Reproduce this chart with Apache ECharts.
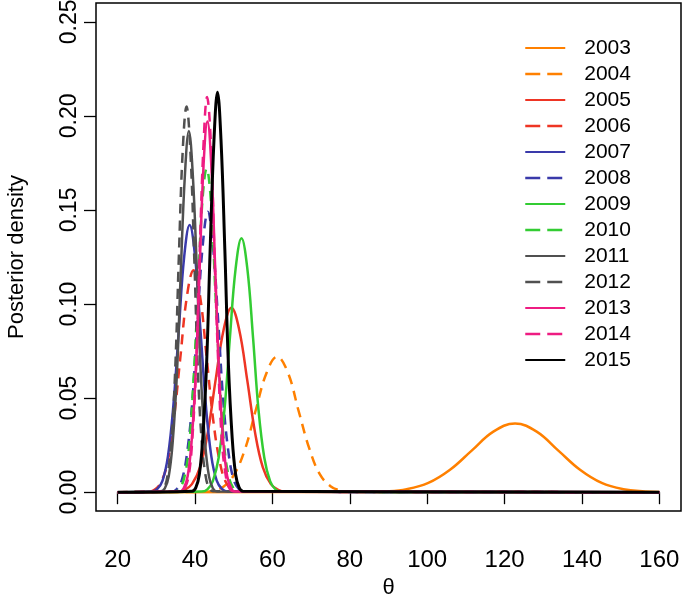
<!DOCTYPE html>
<html>
<head>
<meta charset="utf-8">
<script src="https://cdn.jsdelivr.net/npm/echarts@6/dist/echarts.min.js"></script>
<style>html,body{margin:0;padding:0;background:#fff}#c{width:685px;height:605px}</style>
</head>
<body>
<div id="c"></div>
<script>
// Tick labels
const xTicks = [20, 40, 60, 80, 100, 120, 140, 160];
const yTicks = [0, 0.05, 0.10, 0.15, 0.20, 0.25];
const years = ['2003','2004','2005','2006','2007','2008','2009','2010','2011','2012','2013','2014','2015'];

// Posterior density curves: [theta, density]
const d2003 = [[20,0],[83.5,0.0001],[89.1,0.0004],[94.7,0.0016],[100.3,0.0049],[105.9,0.0119],[111.5,0.0221],[117.1,0.0322],[122.7,0.0365],[128.3,0.0322],[133.9,0.0221],[139.5,0.0119],[145.1,0.0049],[150.7,0.0016],[156.3,0.0004],[160,0.0001]];
const d2004 = [[20,0],[42.0,0.0002],[44.7,0.0008],[47.5,0.0032],[50.2,0.0097],[53.0,0.0234],[55.7,0.0437],[58.5,0.0635],[61.2,0.0720],[64.0,0.0635],[66.7,0.0437],[69.5,0.0234],[72.2,0.0097],[75.0,0.0032],[77.7,0.0008],[80.5,0.0002],[160,0]];
const d2005 = [[20,0],[35.2,0.0002],[37.2,0.0011],[39.2,0.0043],[41.3,0.0133],[43.3,0.0318],[45.3,0.0594],[47.4,0.0865],[49.4,0.0980],[51.4,0.0865],[53.5,0.0594],[55.5,0.0318],[57.5,0.0133],[59.6,0.0043],[61.6,0.0011],[63.6,0.0002],[160,0]];
const d2006 = [[20,0],[27.8,0.0003],[29.5,0.0013],[31.2,0.0052],[32.9,0.0160],[34.5,0.0383],[36.2,0.0716],[37.9,0.1041],[39.6,0.1180],[41.3,0.1041],[43.0,0.0716],[44.7,0.0383],[46.4,0.0160],[48.0,0.0052],[49.7,0.0013],[51.4,0.0003],[160,0]];
const d2007 = [[20,0],[28.8,0.0003],[30.2,0.0016],[31.6,0.0062],[33.0,0.0192],[34.4,0.0461],[35.8,0.0861],[37.2,0.1253],[38.6,0.1420],[40.0,0.1253],[41.4,0.0861],[42.8,0.0461],[44.2,0.0192],[45.6,0.0062],[47.0,0.0016],[48.4,0.0003],[160,0]];
const d2008 = [[20,0],[33.9,0.0003],[35.3,0.0017],[36.6,0.0065],[37.9,0.0202],[39.3,0.0484],[40.6,0.0904],[42.0,0.1315],[43.3,0.1490],[44.6,0.1315],[46.0,0.0904],[47.3,0.0484],[48.7,0.0202],[50.0,0.0065],[51.3,0.0017],[52.7,0.0003],[160,0]];
const d2009 = [[20,0],[41.7,0.0003],[43.2,0.0015],[44.6,0.0059],[46.1,0.0183],[47.6,0.0438],[49.0,0.0819],[50.5,0.1191],[52.0,0.1350],[53.5,0.1191],[55.0,0.0819],[56.4,0.0438],[57.9,0.0183],[59.4,0.0059],[60.8,0.0015],[62.3,0.0003],[160,0]];
const d2010 = [[20,0],[34.9,0.0004],[36.0,0.0019],[37.2,0.0076],[38.4,0.0233],[39.5,0.0558],[40.7,0.1043],[41.8,0.1518],[43.0,0.1720],[44.2,0.1518],[45.3,0.1043],[46.5,0.0558],[47.6,0.0233],[48.8,0.0076],[50.0,0.0019],[51.1,0.0004],[160,0]];
const d2011 = [[20,0],[31.1,0.0004],[32.2,0.0021],[33.2,0.0084],[34.2,0.0260],[35.3,0.0623],[36.3,0.1164],[37.4,0.1694],[38.4,0.1920],[39.4,0.1694],[40.5,0.1164],[41.5,0.0623],[42.6,0.0260],[43.6,0.0084],[44.6,0.0021],[45.7,0.0004],[160,0]];
const d2012 = [[20,0],[31.0,0.0005],[32.0,0.0023],[32.9,0.0090],[33.9,0.0277],[34.9,0.0666],[35.8,0.1243],[36.8,0.1809],[37.8,0.2050],[38.8,0.1809],[39.8,0.1243],[40.7,0.0666],[41.7,0.0277],[42.7,0.0090],[43.6,0.0023],[44.6,0.0005],[160,0]];
const d2013 = [[20,0],[36.1,0.0004],[37.1,0.0022],[38.1,0.0086],[39.1,0.0267],[40.2,0.0640],[41.2,0.1195],[42.2,0.1739],[43.2,0.1970],[44.2,0.1739],[45.2,0.1195],[46.2,0.0640],[47.3,0.0267],[48.3,0.0086],[49.3,0.0022],[50.3,0.0004],[160,0]];
const d2014 = [[20,0],[36.5,0.0005],[37.4,0.0023],[38.4,0.0092],[39.3,0.0284],[40.3,0.0682],[41.2,0.1274],[42.2,0.1853],[43.1,0.2100],[44.1,0.1853],[45.0,0.1274],[46.0,0.0682],[46.9,0.0284],[47.9,0.0092],[48.8,0.0023],[49.8,0.0005],[160,0]];
const d2015 = [[20,0],[39.2,0.0005],[40.2,0.0024],[41.1,0.0093],[42.0,0.0288],[43.0,0.0690],[43.9,0.1289],[44.9,0.1875],[45.8,0.2125],[46.7,0.1875],[47.7,0.1289],[48.6,0.0690],[49.6,0.0288],[50.5,0.0093],[51.4,0.0024],[52.4,0.0005],[160,0]];

const curves = [d2003,d2004,d2005,d2006,d2007,d2008,d2009,d2010,d2011,d2012,d2013,d2014,d2015];
const colors = ['#FF8000','#FF8000','#EE3524','#EE3524','#3A3AAA','#3A3AAA','#33CC33','#33CC33','#505050','#505050','#EE1C82','#EE1C82','#000000'];
const dashed = [false,true,false,true,false,true,false,true,false,true,false,true,false];

const FONT = 'Liberation Sans, Arial, Helvetica, sans-serif';
const chart = echarts.init(document.getElementById('c'));
chart.setOption({
  animation: false,
  backgroundColor: '#fff',
  grid: { left: 96, right: 4, top: 3, bottom: 94, show: true, borderColor: '#000', borderWidth: 1.5,
    containLabel: false, outerBoundsMode: 'none' },
  legend: {
    orient: 'vertical', left: 524, top: 35, padding: 0,
    itemWidth: 40, itemHeight: 26, itemGap: 0,
    itemStyle: { opacity: 0 },
    textStyle: { fontFamily: FONT, fontSize: 21, color: '#000', lineHeight: 26, padding: [0,0,0,14] },
    data: years.map((y, i) => dashed[i]
      ? { name: y, lineStyle: { type: [15, 7], color: colors[i], width: 2.5 } }
      : { name: y })
  },
  xAxis: {
    type: 'value', min: 14.4, max: 165.6,
    name: 'θ', nameLocation: 'middle', nameGap: 64,
    nameTextStyle: { fontFamily: FONT, fontSize: 22, color: '#000' },
    axisLine: { show: false },
    axisTick: { show: true, customValues: xTicks, length: 12, lineStyle: { color: '#000', width: 1.3 } },
    axisLabel: { customValues: xTicks, fontFamily: FONT, fontSize: 24, color: '#000', margin: 37 },
    splitLine: { show: false }
  },
  yAxis: {
    type: 'value', min: -0.01, max: 0.26,
    name: 'Posterior density', nameLocation: 'middle', nameGap: 68, nameRotate: 90,
    nameTextStyle: { fontFamily: FONT, fontSize: 22, color: '#000' },
    axisLine: { show: false },
    axisTick: { show: true, customValues: yTicks, length: 12, lineStyle: { color: '#000', width: 1.3 } },
    axisLabel: { customValues: yTicks, rotate: 90, fontFamily: FONT, fontSize: 23, color: '#000', margin: 15,
      formatter: v => v.toFixed(2) },
    splitLine: { show: false }
  },
  series: years.map((y, i) => ({
    name: y, type: 'line', data: curves[i], showSymbol: false, symbol: 'none',
    smooth: 0.4,
    lineStyle: { color: colors[i], width: i === 12 ? 3 : 2.5, type: dashed[i] ? [10, 7] : 'solid' },
    itemStyle: { color: colors[i] },
    z: 2 + i
  }))
});
</script>
</body>
</html>
